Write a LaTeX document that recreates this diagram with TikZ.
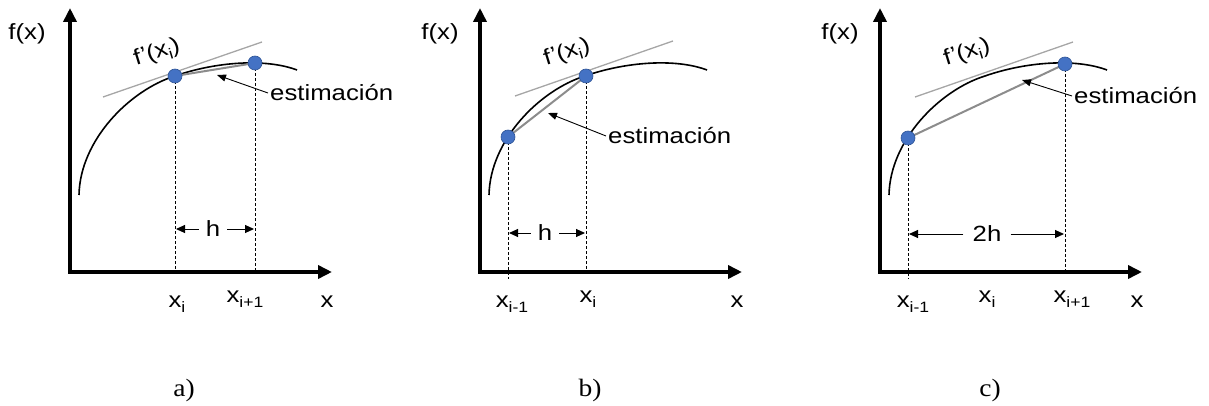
\documentclass[tikz,border=0pt]{standalone}
\usepackage{fontspec}
\setmainfont{Liberation Sans}[FakeStretch=1.17]
\newfontfamily\capfont{Liberation Serif}[FakeStretch=1.1]
\usetikzlibrary{arrows.meta}
\newcommand\mysub[1]{\raisebox{-5pt}{\fontsize{15pt}{15pt}\selectfont #1}}
\definecolor{dotblue}{HTML}{4472C4}
\definecolor{dotedge}{HTML}{2F5597}
\definecolor{tangray}{HTML}{A6A6A6}
\definecolor{secgray}{HTML}{8C8C8C}
\newcommand\fcurve{\draw[curve] (79,195) .. controls (80,140) and (130,90) .. (175,76) .. controls (215,62) and (265,58) .. (297,70);}
\begin{document}
\begin{tikzpicture}[x=1pt,y=-1pt,
  axis/.style={line width=4pt, line join=miter, {Triangle[length=14pt,width=13pt]}-{Triangle[length=14pt,width=13pt]}},
  curve/.style={line width=1.6pt, black},
  tangent/.style={line width=1.3pt, tangray},
  secant/.style={line width=2pt, secgray},
  guide/.style={line width=0.8pt, dashed, dash pattern=on 3pt off 2pt},
  lbl/.style={font=\fontsize{22pt}{24pt}\selectfont, inner sep=0pt},
  caplbl/.style={font=\capfont\fontsize{25pt}{27pt}\selectfont, inner sep=0pt},
  dot/.style={circle, fill=dotblue, draw=dotedge, line width=0.6pt, minimum size=14pt, inner sep=0pt},
  ptr/.style={line width=0.9pt, -{Triangle[length=9pt,width=7pt]}},
  dim/.style={line width=1pt, -{Triangle[length=9pt,width=8pt]}}
]
\useasboundingbox (0,0) rectangle (1209,406);

% ---------------- panel a ----------------
\begin{scope}
  \node[lbl] (fxa) at (27,34) {f(x)};
  \draw[axis] (70,8) -- (70,272) -- (332,272);
  \fcurve
  \coordinate (ta1) at (103,97); \coordinate (ta2) at (262,42);
  \draw[tangent] (ta1) -- (ta2);
  \coordinate (a1) at (175,76); \coordinate (a2) at (255,63);
  \draw[secant] (a1) -- (a2);
  \coordinate (ga1) at (175,272); \coordinate (ga2) at (255,272);
  \draw[guide] (a1) -- (ga1);
  \draw[guide] (a2) -- (ga2);
  \node[dot] (da1) at (a1) {};
  \node[dot] (da2) at (a2) {};
  \node[lbl, rotate=17] (fpa) at (157,53) {f’(x\mysub{i})};
  \node[lbl, inner sep=7pt] (ha) at (213,229) {h};
  \coordinate (hal) at (176,229); \coordinate (har) at (254,229);
  \draw[dim] (ha.west) -- (hal);
  \draw[dim] (ha.east) -- (har);
  \node[lbl, anchor=west, inner sep=2pt] (esta) at (268,93) {estimación};
  \coordinate (tipa) at (217,75);
  \draw[ptr] (esta.west) -- (tipa);
  \node[lbl, anchor=base] (xia) at (177,307) {x\mysub{i}};
  \node[lbl, anchor=base] (xipa) at (245,302) {x\mysub{i+1}};
  \node[lbl, anchor=base] (xa) at (327,307) {x};
  \node[caplbl, anchor=base] (capa) at (184,396) {a)};
\end{scope}

% ---------------- panel b ----------------
\begin{scope}[xshift=410pt]
  \node[lbl] (fxb) at (30,34) {f(x)};
  \draw[axis] (70,8) -- (70,272) -- (332,272);
  \fcurve
  \coordinate (tb1) at (105,96); \coordinate (tb2) at (263,41);
  \draw[tangent] (tb1) -- (tb2);
  \coordinate (b1) at (98,137); \coordinate (b2) at (176,76);
  \draw[secant] (b1) -- (b2);
  \coordinate (gb1) at (98,279); \coordinate (gb2) at (176,272);
  \draw[guide] (b1) -- (gb1);
  \draw[guide] (b2) -- (gb2);
  \node[dot] (db1) at (b1) {};
  \node[dot] (db2) at (b2) {};
  \node[lbl, rotate=17] (fpb) at (157,53) {f’(x\mysub{i})};
  \node[lbl, inner sep=7pt] (hb) at (135,233) {h};
  \coordinate (hbl) at (99,233); \coordinate (hbr) at (175,233);
  \draw[dim] (hb.west) -- (hbl);
  \draw[dim] (hb.east) -- (hbr);
  \node[lbl, anchor=west, inner sep=2pt] (estb) at (196,136) {estimación};
  \coordinate (tipb) at (138,113);
  \draw[ptr] (estb.west) -- (tipb);
  \node[lbl, anchor=base] (ximb) at (102,307) {x\mysub{i-1}};
  \node[lbl, anchor=base] (xib) at (178,302) {x\mysub{i}};
  \node[lbl, anchor=base] (xb) at (327,307) {x};
  \node[caplbl, anchor=base] (capb) at (180,396) {b)};
\end{scope}

% ---------------- panel c ----------------
\begin{scope}[xshift=810pt]
  \node[lbl] (fxc) at (30,34) {f(x)};
  \draw[axis] (70,8) -- (70,272) -- (332,272);
  \fcurve
  \coordinate (tc1) at (105,97); \coordinate (tc2) at (263,42);
  \draw[tangent] (tc1) -- (tc2);
  \coordinate (c1) at (98,138); \coordinate (c2) at (255,64);
  \draw[secant] (c1) -- (c2);
  \coordinate (gc1) at (98,279); \coordinate (gc2) at (255,272);
  \draw[guide] (c1) -- (gc1);
  \draw[guide] (c2) -- (gc2);
  \node[dot] (dc1) at (c1) {};
  \node[dot] (dc2) at (c2) {};
  \node[lbl, rotate=17] (fpc) at (157,53) {f’(x\mysub{i})};
  \node[lbl, inner sep=9pt] (hc) at (177,234) {2h};
  \coordinate (hcl) at (99,234); \coordinate (hcr) at (254,234);
  \draw[dim] (hc.west) -- (hcl);
  \draw[dim] (hc.east) -- (hcr);
  \node[lbl, anchor=west, inner sep=2pt] (estc) at (262,96) {estimación};
  \coordinate (tipc) at (212,80);
  \draw[ptr] (estc.west) -- (tipc);
  \node[lbl, anchor=base] (ximc) at (103,307) {x\mysub{i-1}};
  \node[lbl, anchor=base] (xic) at (177,302) {x\mysub{i}};
  \node[lbl, anchor=base] (xipc) at (262,302) {x\mysub{i+1}};
  \node[lbl, anchor=base] (xc) at (327,307) {x};
  \node[caplbl, anchor=base] (capc) at (180,396) {c)};
\end{scope}
\end{tikzpicture}
\end{document}
